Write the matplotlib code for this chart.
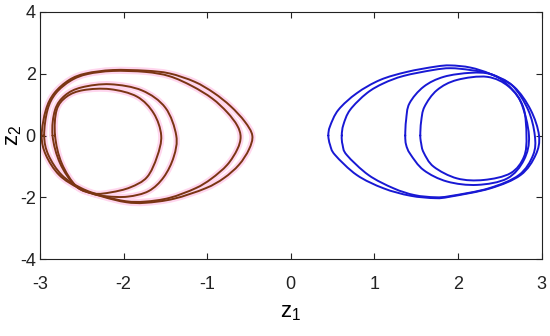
import matplotlib
matplotlib.use("Agg")
import matplotlib.pyplot as plt
from matplotlib.path import Path
from matplotlib.patches import PathPatch
import numpy as np

plt.rcParams['font.family'] = ['Liberation Sans Narrow', 'Liberation Sans', 'DejaVu Sans']
plt.rcParams['mathtext.fontset'] = 'custom'
plt.rcParams['mathtext.rm'] = 'Liberation Sans Narrow'
plt.rcParams['mathtext.it'] = 'Liberation Sans Narrow'

# ---- data (z1, z2) ----
left_outer_x = [-2.98, -2.93, -2.83, -2.65, -2.45, -2.13, -1.74, -1.45, -1.15, -0.92, -0.72, -0.55,
                -0.46, -0.50, -0.62, -0.80, -1.02, -1.40, -1.74, -1.97, -2.25, -2.53, -2.77, -2.93]
left_outer_y = [0.00, 0.83, 1.37, 1.80, 2.01, 2.12, 2.10, 2.01, 1.74, 1.38, 0.95, 0.45,
                0.00, -0.45, -0.95, -1.38, -1.71, -2.05, -2.18, -2.16, -1.98, -1.71, -1.28, -0.63]

left_outer2_x = [-2.95, -2.91, -2.81, -2.63, -2.43, -2.13, -1.74, -1.45, -1.18, -0.94, -0.76, -0.64,
                 -0.60, -0.64, -0.76, -0.95, -1.14, -1.45, -1.74, -1.97, -2.25, -2.51, -2.74, -2.90]
left_outer2_y = [0.00, 0.83, 1.37, 1.78, 1.99, 2.09, 2.06, 1.92, 1.60, 1.20, 0.75, 0.32,
                 -0.05, -0.45, -0.95, -1.40, -1.71, -2.02, -2.14, -2.13, -1.96, -1.70, -1.28, -0.63]

left_inner2_x = [-2.85, -2.82, -2.70, -2.50, -2.16, -1.78, -1.50, -1.37, -1.40, -1.52, -1.70,
                 -1.95, -2.20, -2.38, -2.58, -2.76]
left_inner2_y = [0.00, 0.83, 1.30, 1.56, 1.66, 1.46, 0.90, 0.00, -0.69, -1.35, -1.80,
                 -1.98, -1.97, -1.88, -1.62, -0.90]

left_inner_x = [-2.82, -2.80, -2.68, -2.48, -2.16, -1.84, -1.64, -1.55, -1.60, -1.72, -1.92,
                -2.15, -2.35, -2.56, -2.74]
left_inner_y = [0.00, 0.83, 1.26, 1.47, 1.50, 1.26, 0.72, 0.00, -0.69, -1.35, -1.68,
                -1.84, -1.88, -1.66, -0.90]

right_outer_x = [0.45, 0.47, 0.57, 0.79, 1.07, 1.39, 1.73, 1.91, 2.15, 2.39, 2.67, 2.87, 2.97,
                 2.93, 2.75, 2.39, 1.91, 1.73, 1.43, 1.11, 0.79, 0.53, 0.47]
right_outer_y = [0.00, 0.30, 0.83, 1.37, 1.80, 2.06, 2.23, 2.27, 2.20, 1.99, 1.58, 0.83, 0.00,
                 -0.63, -1.28, -1.71, -1.98, -2.03, -1.95, -1.71, -1.28, -0.63, -0.30]

right_outer2_x = [0.61, 0.63, 0.71, 0.91, 1.11, 1.35, 1.70, 1.91, 2.15, 2.39, 2.65, 2.84, 2.92,
                  2.90, 2.73, 2.37, 1.91, 1.73, 1.48, 1.23, 0.93, 0.67, 0.62]
right_outer2_y = [0.00, 0.35, 0.83, 1.37, 1.69, 1.93, 2.12, 2.18, 2.12, 1.99, 1.62, 0.83, 0.00,
                  -0.63, -1.28, -1.71, -1.96, -2.00, -1.93, -1.71, -1.28, -0.63, -0.30]

right_inner2_x = [1.37, 1.38, 1.42, 1.59, 1.83, 2.15, 2.39, 2.57, 2.75, 2.85, 2.79, 2.59, 2.23,
                  1.87, 1.59, 1.43, 1.38]
right_inner2_y = [0.00, 0.50, 1.04, 1.58, 1.90, 2.03, 1.99, 1.70, 1.10, 0.00, -0.79, -1.39, -1.60,
                  -1.49, -1.12, -0.60, -0.30]

right_inner_x = [1.55, 1.56, 1.60, 1.75, 1.99, 2.35, 2.61, 2.78, 2.82, 2.79, 2.63, 2.31, 1.99,
                 1.71, 1.59, 1.56]
right_inner_y = [0.00, 0.45, 0.93, 1.47, 1.80, 1.90, 1.58, 0.93, 0.00, -0.69, -1.22, -1.44, -1.39,
                 -1.01, -0.55, -0.25]

x_ticks = [-3, -2, -1, 0, 1, 2, 3]
y_ticks = [-4, -2, 0, 2, 4]

left_loops = [(left_outer_x, left_outer_y), (left_outer2_x, left_outer2_y),
              (left_inner2_x, left_inner2_y), (left_inner_x, left_inner_y)]
right_loops = [(right_outer_x, right_outer_y), (right_outer2_x, right_outer2_y),
               (right_inner2_x, right_inner2_y), (right_inner_x, right_inner_y)]

fig = plt.figure(figsize=(5.5, 3.36), dpi=100)
ax = fig.add_axes([40/550, 1-259/336, 501.5/550, 247/336])


def smooth_closed_path(xs, ys):
    """Closed path through the read points, drawn by matplotlib as cubic Bezier segments."""
    p = np.column_stack([xs, ys])
    n = len(p)
    verts = [p[0]]
    codes = [Path.MOVETO]
    for i in range(n):
        p0, p1, p2, p3 = p[(i - 1) % n], p[i], p[(i + 1) % n], p[(i + 2) % n]
        verts += [p1 + (p2 - p0) / 6.0, p2 - (p3 - p1) / 6.0, p2]
        codes += [Path.CURVE4] * 3
    return Path(verts, codes)


def draw(xs, ys, color, lw, z):
    patch = PathPatch(smooth_closed_path(xs, ys), facecolor='none', edgecolor=color,
                      lw=lw, joinstyle='round', capstyle='round', zorder=z)
    ax.add_patch(patch)


for xs, ys in left_loops:
    draw(xs, ys, '#ffd6ee', 4.5, 1)
for xs, ys in left_loops:
    draw(xs, ys, '#7a3513', 1.4, 2)
for xs, ys in right_loops:
    draw(xs, ys, '#1818d4', 1.4, 2)

ax.set_xlim(-3, 3)
ax.set_ylim(-4, 4)
ax.set_xticks(x_ticks)
ax.set_yticks(y_ticks)
ax.set_xticklabels([str(v) for v in x_ticks])
ax.set_yticklabels([str(v) for v in y_ticks])
ax.tick_params(direction='in', top=True, right=True, length=4, width=0.8,
               labelsize=13, colors='#222222')
ax.tick_params(axis='x', pad=12)
ax.tick_params(axis='y', pad=3)
for s in ax.spines.values():
    s.set_linewidth(0.8)
    s.set_color('#222222')
ax.set_xlabel(r'$\mathregular{z_1}$', fontsize=16, labelpad=7)
ax.set_ylabel(r'$\mathregular{z_2}$', fontsize=16, labelpad=-3)

fig.savefig('out.png', dpi=100)
